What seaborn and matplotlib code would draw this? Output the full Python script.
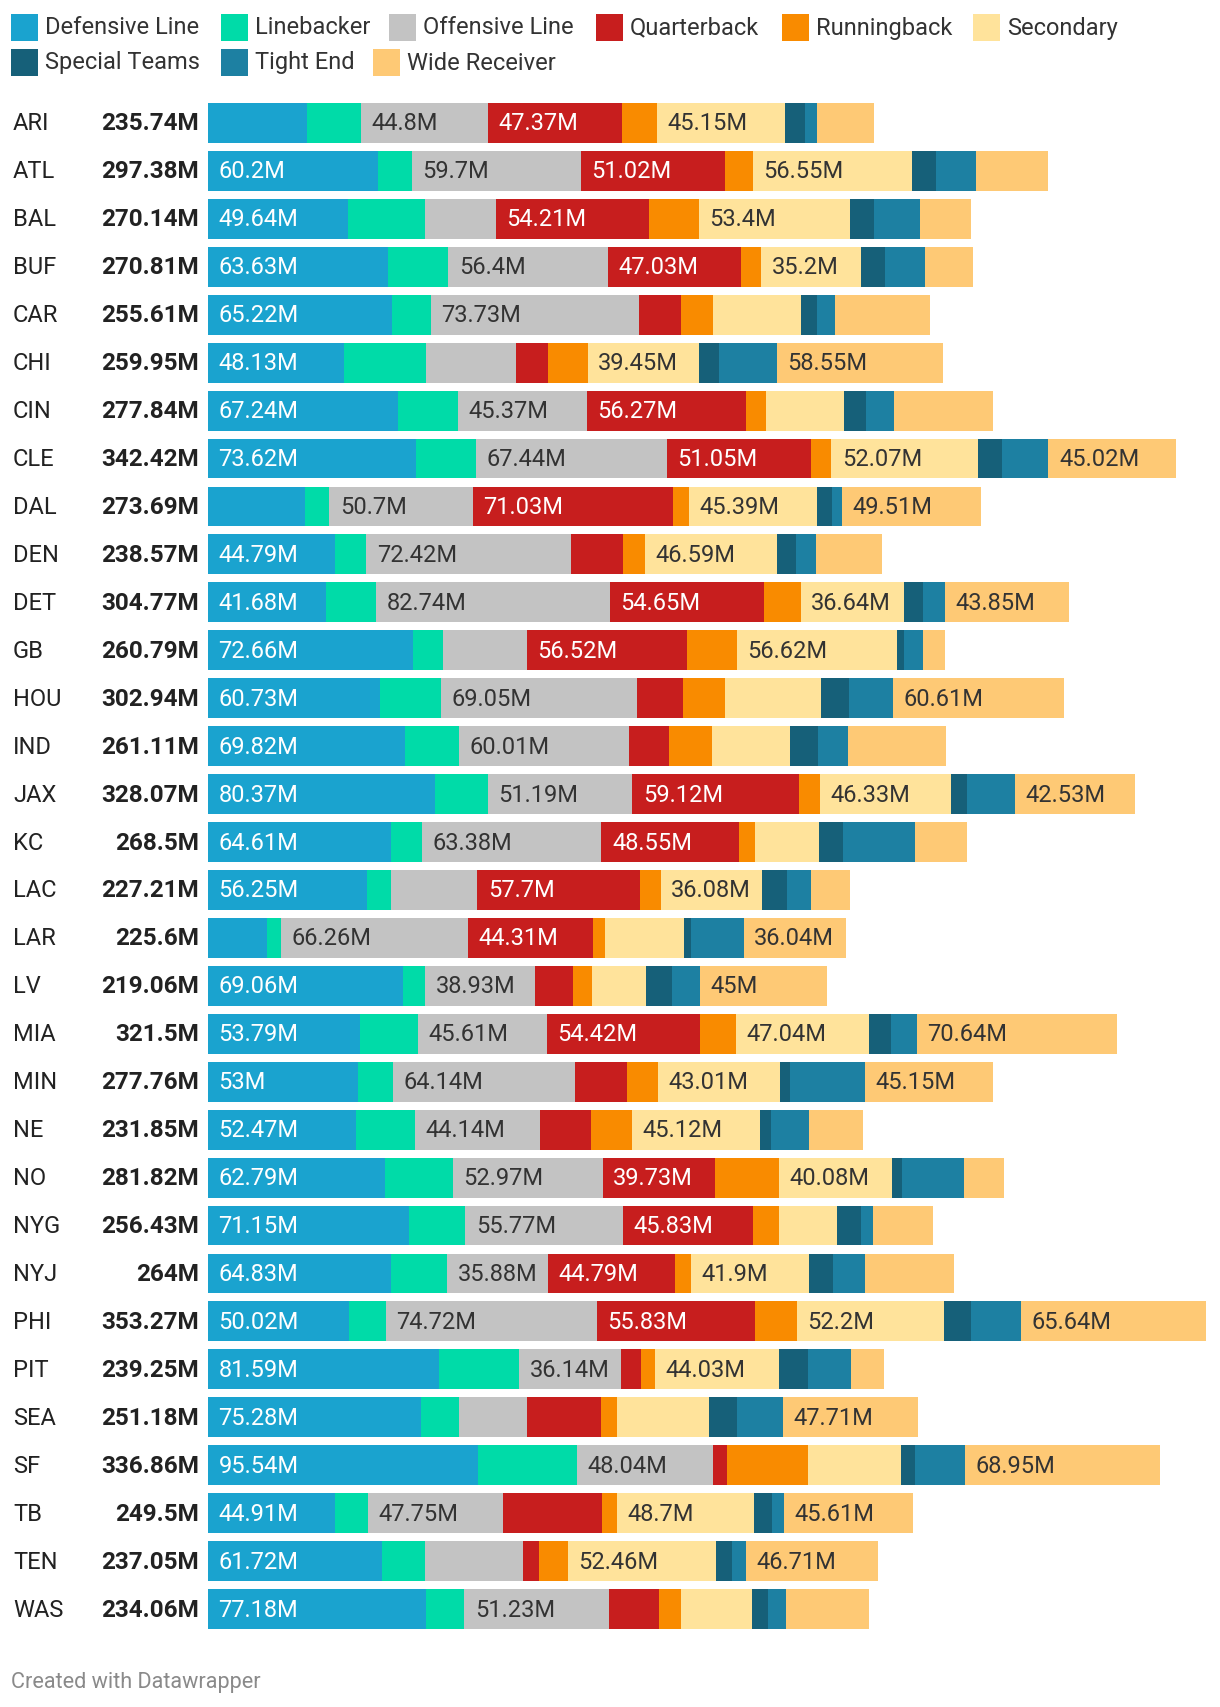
import numpy as np
import pandas as pd
import matplotlib
matplotlib.use("Agg")
import matplotlib.pyplot as plt
import seaborn as sns
from matplotlib.patches import Rectangle
from matplotlib.transforms import blended_transform_factory

sns.set_theme(style="white")
plt.rcParams["font.family"] = ["Roboto", "DejaVu Sans"]

# ---------------- data (millions of USD) ----------------
teams = ["ARI", "ATL", "BAL", "BUF", "CAR", "CHI", "CIN", "CLE", "DAL", "DEN", "DET",
         "GB", "HOU", "IND", "JAX", "KC", "LAC", "LAR", "LV", "MIA", "MIN", "NE", "NO",
         "NYG", "NYJ", "PHI", "PIT", "SEA", "SF", "TB", "TEN", "WAS"]
totals = [235.74, 297.38, 270.14, 270.81, 255.61, 259.95, 277.84, 342.42, 273.69, 238.57,
          304.77, 260.79, 302.94, 261.11, 328.07, 268.5, 227.21, 225.6, 219.06, 321.5,
          277.76, 231.85, 281.82, 256.43, 264, 353.27, 239.25, 251.18, 336.86, 249.5,
          237.05, 234.06]
defensive_line = [35.1, 60.2, 49.64, 63.63, 65.22, 48.13, 67.24, 73.62, 34.4, 44.79, 41.68,
                  72.66, 60.73, 69.82, 80.37, 64.61, 56.25, 20.75, 69.06, 53.79, 53, 52.47,
                  62.79, 71.15, 64.83, 50.02, 81.59, 75.28, 95.54, 44.91, 61.72, 77.18]
linebacker = [19.06, 11.94, 27.0, 21.4, 13.55, 28.93, 21.35, 21.3, 8.5, 11.25, 17.85,
              10.56, 21.89, 19.06, 18.6, 11.25, 8.5, 5.05, 7.75, 20.44, 12.63, 20.9,
              23.88, 19.95, 19.75, 12.85, 28.5, 13.55, 35.1, 11.82, 14.9, 13.55]
offensive_line = [44.8, 59.7, 25.2, 56.4, 73.73, 32.08, 45.37, 67.44, 50.7, 72.42, 82.74,
                  29.62, 69.05, 60.01, 51.19, 63.38, 30.56, 66.26, 38.93, 45.61, 64.14, 44.14,
                  52.97, 55.77, 35.88, 74.72, 36.14, 24.0, 48.04, 47.75, 34.9, 51.23]
quarterback = [47.37, 51.02, 54.21, 47.03, 14.93, 11.25, 56.27, 51.05, 71.03, 18.37, 54.65,
               56.52, 16.3, 14.24, 59.12, 48.55, 57.7, 44.31, 13.5, 54.42, 18.37, 18.1,
               39.73, 45.83, 44.79, 55.83, 6.89, 26.18, 5.05, 35.1, 5.74, 17.5]
runningback = [12.63, 9.87, 17.68, 7.3, 11.25, 14.0, 7.12, 7.12, 5.51, 7.81, 12.85,
               17.68, 14.93, 15.38, 7.3, 5.74, 7.12, 4.13, 6.55, 12.63, 11.25, 14.53,
               22.73, 9.3, 5.51, 14.95, 5.05, 5.74, 28.6, 5.05, 10.0, 7.81]
secondary = [45.15, 56.55, 53.4, 35.2, 31.0, 39.45, 27.71, 52.07, 45.39, 46.59, 36.64,
             56.62, 33.95, 27.55, 46.33, 22.5, 36.08, 27.8, 19.2, 47.04, 43.01, 45.12,
             40.08, 20.6, 41.9, 52.2, 44.03, 32.55, 32.85, 48.7, 52.46, 25.3]
special_teams = [7.12, 8.27, 8.5, 8.6, 5.74, 6.89, 7.81, 8.5, 5.15, 6.89, 6.55,
                 2.76, 9.87, 9.87, 5.8, 8.5, 8.5, 2.76, 9.18, 7.81, 3.44, 4.13,
                 3.44, 8.5, 8.5, 9.3, 10.0, 9.87, 5.05, 6.2, 5.8, 5.51]
tight_end = [4.13, 14.24, 16.3, 14.2, 6.43, 20.67, 9.87, 16.3, 3.5, 7.12, 7.96,
             6.43, 15.61, 10.56, 16.83, 25.49, 8.5, 18.5, 9.89, 9.12, 26.77, 13.4,
             22.04, 4.13, 11.25, 17.76, 15.5, 16.3, 17.68, 4.36, 4.82, 6.43]
wide_receiver = [20.38, 25.59, 18.21, 17.05, 33.76, 58.55, 35.1, 45.02, 49.51, 23.33, 43.85,
                 7.94, 60.61, 34.62, 42.53, 18.48, 14.0, 36.04, 45, 70.64, 45.15, 19.06,
                 14.16, 21.2, 31.59, 65.64, 11.55, 47.71, 68.95, 45.61, 46.71, 29.55]

positions = ["Defensive Line", "Linebacker", "Offensive Line", "Quarterback", "Runningback",
             "Secondary", "Special Teams", "Tight End", "Wide Receiver"]
series = [defensive_line, linebacker, offensive_line, quarterback, runningback,
          secondary, special_teams, tight_end, wide_receiver]
colors = ["#1aa3cf", "#00dba8", "#c3c3c3", "#c71e1e", "#f98b00",
          "#ffe39b", "#166079", "#1d80a2", "#fec975"]
label_colors = ["white", "#333333", "#333333", "white", "#333333",
                "#333333", "white", "white", "#333333"]

df = pd.DataFrame({"team": teams})
for name, vals in zip(positions, series):
    df[name] = vals
vals = df[positions].to_numpy().T          # shape (9, 32)
cum = np.cumsum(vals, axis=0)

# ---------------- layout ----------------
W, H = 1220, 1708
BAR_X0 = 208
PX_PER_M = 2.826
TOP, BOTTOM = 100, 1634

fig = plt.figure(figsize=(W / 100, H / 100), dpi=100)
ax = fig.add_axes([BAR_X0 / W, 1 - BOTTOM / H, (W - BAR_X0) / W, (BOTTOM - TOP) / H])

# stacked bars: draw cumulative totals from the last segment to the first
for j in reversed(range(len(positions))):
    d = pd.DataFrame({"team": teams, "cum": cum[j]})
    sns.barplot(data=d, x="cum", y="team", orient="h", color=colors[j], saturation=1,
                width=0.833, linewidth=0, errorbar=None, ax=ax)

ax.set_xlim(0, (W - BAR_X0) / PX_PER_M)
ax.set_ylim(len(teams) - 0.5, -0.5)
ax.axis("off")


def fmt(v):
    return f"{v:.2f}".rstrip("0").rstrip(".") + "M"


LABEL_MIN = 35.2
pad = 10.5 / PX_PER_M
for i in range(len(teams)):
    for j in range(len(positions)):
        v = vals[j, i]
        if v >= LABEL_MIN:
            left = cum[j, i] - v
            ax.text(left + pad, i, fmt(v), va="center", ha="left", fontsize=17,
                    color=label_colors[j])

trans = blended_transform_factory(fig.transFigure, ax.transData)
for i, (t, tot) in enumerate(zip(teams, totals)):
    ax.text(13 / W, i, t, transform=trans, va="center", ha="left", fontsize=17,
            color="#222222")
    ax.text(199 / W, i, fmt(tot), transform=trans, va="center", ha="right", fontsize=17.5,
            fontweight="bold", color="#222222")

# ---------------- legend (flow layout like Datawrapper) ----------------
legend_rows = [
    [(0, 11), (1, 221), (2, 389), (3, 596), (4, 782), (5, 973)],
    [(6, 11), (7, 221), (8, 373)],
]
row_y = [28, 63]
SW = 27
for r, items in enumerate(legend_rows):
    yc = row_y[r]
    for j, x in items:
        fig.patches.append(Rectangle((x / W, 1 - (yc + SW / 2) / H), SW / W, SW / H,
                                     transform=fig.transFigure, facecolor=colors[j],
                                     edgecolor="none"))
        fig.text((x + 34) / W, 1 - yc / H, positions[j], va="center", ha="left",
                 fontsize=17, color="#333333")

fig.text(11 / W, 1 - 1683 / H, "Created with Datawrapper", va="center", ha="left",
         fontsize=15.6, color="#8a8a8a")

fig.savefig("out.png", dpi=100)
